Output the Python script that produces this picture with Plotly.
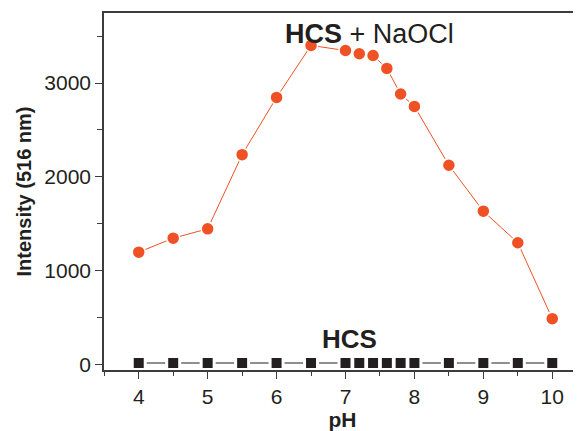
import plotly.graph_objects as go

ph = [4, 4.5, 5, 5.5, 6, 6.5, 7, 7.2, 7.4, 7.6, 7.8, 8, 8.5, 9, 9.5, 10]
hcs_naocl = [1196, 1345, 1445, 2236, 2847, 3401, 3347, 3312, 3294, 3156,
             2883, 2751, 2123, 1633, 1296, 487]
hcs = [15, 15, 15, 15, 15, 15, 15, 15, 15, 15, 15, 15, 15, 15, 15, 15]

x_ticks = [4, 5, 6, 7, 8, 9, 10]
y_ticks = [0, 1000, 2000, 3000]

TXT = "#231F20"
RED = "#F05124"
AX = "#3c3c3c"
FONT = "Liberation Sans, Arial, Helvetica, sans-serif"

fig = go.Figure()
fig.add_trace(go.Scatter(
    x=ph, y=hcs, mode="lines+markers",
    line=dict(color="#6a6a6a", width=1.5),
    marker=dict(symbol="square", size=13, color="#231F20",
                line=dict(color="white", width=3)),
    showlegend=False))
fig.add_trace(go.Scatter(
    x=ph, y=hcs_naocl, mode="lines+markers",
    line=dict(color=RED, width=1),
    marker=dict(symbol="circle", size=13, color=RED,
                line=dict(color="white", width=1.5)),
    showlegend=False))

fig.add_annotation(x=7.35, y=3526, xref="x", yref="y", showarrow=False,
                   text="<b>HCS</b> + NaOCl",
                   font=dict(family=FONT, size=27, color=TXT))
fig.add_annotation(x=7.06, y=270, xref="x", yref="y", showarrow=False,
                   text="<b>HCS</b>",
                   font=dict(family=FONT, size=26, color=TXT))

axis_common = dict(showgrid=False, zeroline=False, showline=True,
                   linecolor=AX, linewidth=1.5,
                   ticks="outside", ticklen=7, tickwidth=1.2, tickcolor=AX,
                   tickfont=dict(family=FONT, size=21, color=TXT))

fig.update_xaxes(range=[3.496, 10.417], tickvals=x_ticks, mirror=True,
                 minor=dict(dtick=0.5, tick0=0, ticks="outside", ticklen=4,
                            tickwidth=1.2, tickcolor=AX),
                 title=dict(text="<b>pH</b>", standoff=0,
                            font=dict(family=FONT, size=21, color=TXT)),
                 **axis_common)
fig.update_yaxes(range=[-61, 3747], tickvals=y_ticks,
                 minor=dict(dtick=500, tick0=0, ticks="outside", ticklen=5,
                            tickwidth=1.2, tickcolor=AX),
                 title=dict(text="<b>Intensity (516 nm)</b>", standoff=7,
                            font=dict(family=FONT, size=20, color=TXT)),
                 **axis_common)

fig.update_layout(width=573, height=423,
                  margin=dict(l=96, r=0, t=5, b=61),
                  paper_bgcolor="white", plot_bgcolor="white")

fig.write_html("out.html")
